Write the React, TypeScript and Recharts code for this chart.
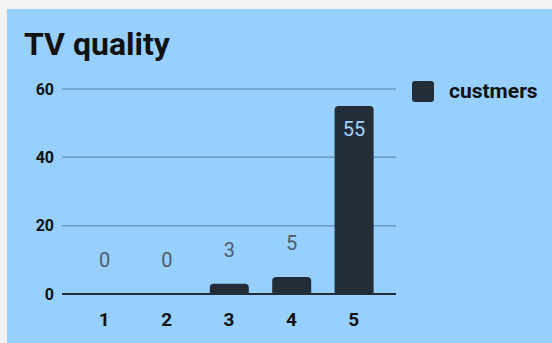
import React from 'react';
import { BarChart, Bar, XAxis, YAxis, CartesianGrid, Legend, LabelList } from 'recharts';

const ratings = ['1', '2', '3', '4', '5'];
const customers = [0, 0, 3, 5, 55];
const yTicks = [0, 20, 40, 60];

const data = ratings.map((rating, i) => ({ rating, customers: customers[i] }));

const FONT = 'Roboto, "Noto Sans", sans-serif';
const PANEL = '#97cffd';
const BAR = '#222d37';

// value labels sit above short bars and inside tall ones
const renderValue = (props: any) => {
  const { x, y, width, height, value } = props;
  const inside = Number(height) > 40;
  const top = Math.min(Number(y), Number(y) + Number(height));
  return (
    <text
      x={Number(x) + Number(width) / 2}
      y={inside ? top + 30 : top - 27}
      textAnchor="middle"
      fill={inside ? '#a3d2ff' : '#4f5d68'}
      fontSize={20}
      fontFamily={FONT}
    >
      {value}
    </text>
  );
};

const renderLegend = (props: any) => {
  const item = props.payload?.[0];
  return (
    <div style={{ display: 'flex', alignItems: 'center', fontFamily: FONT }}>
      <span style={{ width: 22, height: 21, background: BAR, borderRadius: 3, display: 'inline-block' }} />
      <span style={{ marginLeft: 15, fontWeight: 700, fontSize: 21, color: '#111' }}>{item?.value}</span>
    </div>
  );
};

export default function App() {
  return (
    <div style={{ position: 'fixed', left: 0, top: 0, width: 552, height: 343, background: '#f2f2f2', overflow: 'hidden' }}>
      <div style={{ position: 'absolute', left: 7, top: 9, width: 545, height: 334, background: PANEL }} />
      <div
        style={{
          position: 'absolute',
          left: 24,
          top: 28,
          fontFamily: FONT,
          fontWeight: 700,
          fontSize: 32,
          lineHeight: 1,
          color: '#111',
        }}
      >
        TV quality
      </div>
      <div style={{ position: 'absolute', left: 0, top: 0 }}>
        <BarChart width={552} height={343} data={data} margin={{ top: 89, right: 156, bottom: 19, left: 22 }}>
          <CartesianGrid vertical={false} stroke="#6b9cc6" strokeWidth={1.5} />
          <XAxis
            dataKey="rating"
            height={30}
            padding={{ left: 11, right: 11 }}
            tickLine={false}
            axisLine={{ stroke: BAR, strokeWidth: 2 }}
            tickMargin={13}
            tick={{ fill: '#111', fontSize: 19, fontWeight: 700, fontFamily: FONT }}
          />
          <YAxis
            width={40}
            domain={[0, 60]}
            ticks={yTicks}
            tickLine={false}
            axisLine={false}
            tick={{ fill: '#111', fontSize: 16, fontWeight: 700, fontFamily: FONT }}
          />
          <Legend
            layout="vertical"
            align="center"
            verticalAlign="middle"
            content={renderLegend}
            wrapperStyle={{ left: 412, top: 79, width: 140 }}
          />
          <Bar
            dataKey="customers"
            name="custmers"
            fill={BAR}
            barSize={39}
            minPointSize={0.5}
            radius={[4, 4, 0, 0]}
            isAnimationActive={false}
          >
            <LabelList dataKey="customers" content={renderValue} />
          </Bar>
        </BarChart>
      </div>
    </div>
  );
}
